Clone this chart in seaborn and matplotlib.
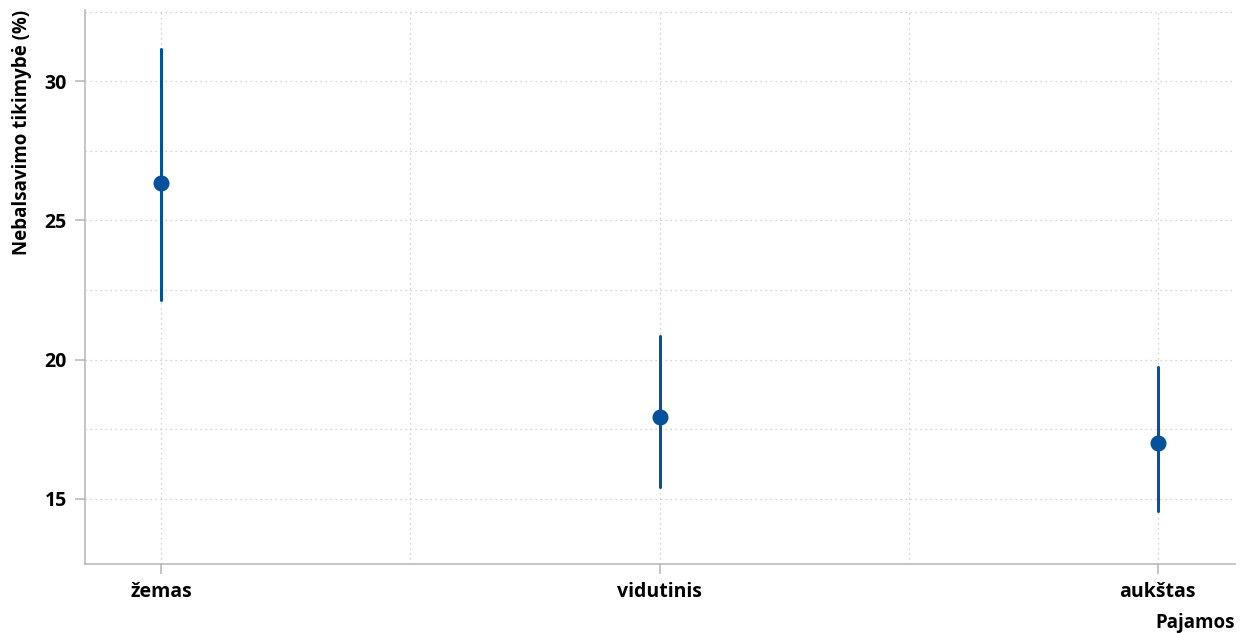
import numpy as np
import pandas as pd
import matplotlib
matplotlib.use("Agg")
import matplotlib.pyplot as plt
import seaborn as sns
from matplotlib.ticker import MultipleLocator

categories = ["žemas", "vidutinis", "aukštas"]
estimate = [26.35, 17.95, 17.0]
ci_low = [22.15, 15.42, 14.57]
ci_high = [31.15, 20.86, 19.75]

# long form: each category holds low / estimate / high, median + full-range interval recovers them
rows = []
for cat, lo, est, hi in zip(categories, ci_low, estimate, ci_high):
    for v in (lo, est, hi):
        rows.append({"Pajamos": cat, "value": v})
df = pd.DataFrame(rows)

sns.set_style("white")
plt.rcParams["font.family"] = ["Open Sans", "DejaVu Sans"]
plt.rcParams["text.color"] = "black"
plt.rcParams["axes.labelcolor"] = "black"
plt.rcParams["xtick.labelcolor"] = "black"
plt.rcParams["ytick.labelcolor"] = "black"

fig = plt.figure(figsize=(12.45, 6.33), dpi=100)
ax = fig.add_axes([0.0683, 0.109, 0.9237, 0.875])

blue = "#04529c"
sns.pointplot(data=df, x="Pajamos", y="value", order=categories,
              estimator="median", errorbar=("pi", 100),
              linestyle="none", color=blue, markersize=9.5,
              err_kws={"linewidth": 2.2}, ax=ax)

ax.set_xlim(-0.153, 2.155)
ax.set_ylim(12.66, 32.55)
ax.yaxis.set_major_locator(MultipleLocator(5))
ax.yaxis.set_minor_locator(MultipleLocator(2.5))
ax.set_xticks([0, 1, 2], minor=False)
ax.set_xticks([0.5, 1.5], minor=True)

ax.grid(True, which="both", linestyle=(0, (1, 3)), color="#c8c8c8", linewidth=0.9)
ax.set_axisbelow(True)

for side in ["top", "right"]:
    ax.spines[side].set_visible(False)
for side in ["left", "bottom"]:
    ax.spines[side].set_color("#b5b5b5")
    ax.spines[side].set_linewidth(1.1)

ax.tick_params(which="major", length=7, width=1.1, color="#b5b5b5",
               labelsize=14, pad=6, direction="out", left=True, bottom=True)
ax.tick_params(which="minor", length=0)
for lab in ax.get_xticklabels() + ax.get_yticklabels():
    lab.set_fontweight("bold")

ax.set_xlabel("Pajamos", fontsize=13.5, fontweight="bold", loc="right", labelpad=8)
ax.set_ylabel("Nebalsavimo tikimybė (%)", fontsize=13.5, fontweight="bold", loc="top", labelpad=9)

fig.savefig("out.png", dpi=100)
